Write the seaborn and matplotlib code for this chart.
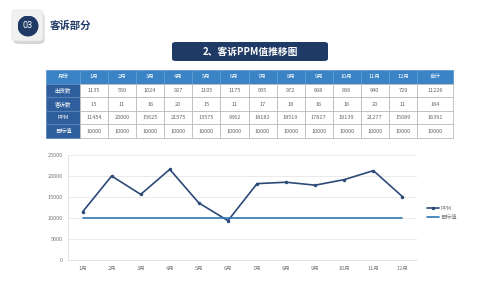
import matplotlib
matplotlib.use("Agg")
import matplotlib.pyplot as plt
import seaborn as sns
import pandas as pd
from matplotlib.patches import FancyBboxPatch, Ellipse

months = ["1月", "2月", "3月", "4月", "5月", "6月", "7月", "8月", "9月", "10月", "11月", "12月"]
shipments = [1135, 550, 1024, 927, 1105, 1175, 935, 972, 898, 836, 940, 729]
complaints = [13, 11, 16, 20, 15, 11, 17, 18, 16, 16, 20, 11]
ppm = [11454, 20000, 15625, 21575, 13575, 9362, 18182, 18519, 17817, 19139, 21277, 15089]
target = [10000] * 12
total_ship = 11226
total_compl = 184
total_ppm = 16391
total_target = 10000
row_labels = ["出货数", "客诉数", "PPM", "目标值"]

sns.set_theme(style="white")
plt.rcParams['font.family'] = ['Noto Sans CJK SC', 'DejaVu Sans']

W, H = 500, 281
fig = plt.figure(figsize=(5, 2.81), dpi=100)
fig.patch.set_facecolor("white")

def fx(px): return px / W
def fy(py): return 1 - py / H

NAVY = "#1f3a64"

# header icon
fig.patches.append(FancyBboxPatch((fx(13.5), fy(44)), fx(31), 31 / H,
                                  boxstyle="round,pad=0,rounding_size=0.012",
                                  transform=fig.transFigure, facecolor="#d6d6d6",
                                  edgecolor="none", zorder=1))
fig.patches.append(FancyBboxPatch((fx(12), fy(41)), fx(31), 31 / H,
                                  boxstyle="round,pad=0,rounding_size=0.012",
                                  transform=fig.transFigure, facecolor="#f1f1f1",
                                  edgecolor="#e2e2e2", lw=0.5, zorder=2))
icon_ax = fig.add_axes([fx(17.5), fy(36.5), fx(21), 21 / H])
icon_ax.set_zorder(5)
icon_ax.patch.set_alpha(0)
icon_ax.set_xlim(0, 1); icon_ax.set_ylim(0, 1); icon_ax.axis("off")
icon_ax.add_patch(Ellipse((0.5, 0.5), 1.0, 1.0, facecolor=NAVY, edgecolor="none"))
icon_ax.text(0.5, 0.5, "03", color="white", fontsize=6.5, ha="center", va="center",
             family=["Roboto", "DejaVu Sans"])
fig.text(fx(50), fy(26), "客诉部分", color=NAVY, fontsize=7.5, fontweight="bold",
         va="center", ha="left")

# banner
fig.patches.append(FancyBboxPatch((fx(172), fy(61)), fx(156), 19 / H,
                                  boxstyle="round,pad=0,rounding_size=0.008",
                                  transform=fig.transFigure, facecolor=NAVY,
                                  edgecolor="none", zorder=2))
fig.text(fx(250), fy(51.5), "2、客诉PPM值推移图", color="white", fontsize=7,
         fontweight="bold", ha="center", va="center", zorder=3)

# table
tab_left, tab_right, tab_top, tab_bot = 46, 453, 70, 138
tax = fig.add_axes([fx(tab_left), fy(tab_bot), fx(tab_right - tab_left), (tab_bot - tab_top) / H])
tax.axis("off")
header = ["月份"] + months + ["合计"]
rows = [
    [row_labels[0]] + [str(v) for v in shipments] + [str(total_ship)],
    [row_labels[1]] + [str(v) for v in complaints] + [str(total_compl)],
    [row_labels[2]] + [str(v) for v in ppm] + [str(total_ppm)],
    [row_labels[3]] + [str(v) for v in target] + [str(total_target)],
]
cw = [34] + [(417 - 80) / 12] * 12 + [36]
tot = sum(cw)
cw = [c / tot for c in cw]
tbl = tax.table(cellText=[header] + rows, colWidths=cw, bbox=[0, 0, 1, 1], cellLoc="center")
tbl.auto_set_font_size(False)
for (r, c), cell in tbl.get_celld().items():
    cell.set_linewidth(0.6)
    cell.set_edgecolor("#bdbdbd")
    t = cell.get_text()
    t.set_fontsize(4)
    if r == 0:
        cell.set_facecolor("#3a84c6")
        cell.set_edgecolor("#5d9bd2")
        t.set_color("white")
    elif c == 0:
        cell.set_facecolor("#2e5e9c")
        cell.set_edgecolor("#5d86b8")
        t.set_color("white")
    else:
        cell.set_facecolor("white")
        t.set_color("#666666")

# chart
ax = fig.add_axes([fx(68), fy(260), fx(417 - 68), (260 - 155) / H])
df = pd.DataFrame({"月": months, "PPM": ppm, "目标值": target, "x": range(12)})
sns.lineplot(data=df, x="x", y="PPM", ax=ax, color="#2c4a78", lw=1.2, marker="o",
             markersize=2.5, markeredgewidth=0, label="PPM")
sns.lineplot(data=df, x="x", y="目标值", ax=ax, color="#2f78b4", lw=1.2, label="目标值")
ax.set_xlim(-0.5, 11.5)
ax.set_ylim(0, 25000)
ax.set_yticks([0, 5000, 10000, 15000, 20000, 25000])
ax.set_xticks(range(12))
ax.set_xticklabels(months)
ax.tick_params(axis="both", labelsize=4, colors="#777777", length=0, pad=4)
ax.set_xlabel(""); ax.set_ylabel("")
ax.grid(axis="y", color="#e6e6e6", lw=0.6)
ax.set_axisbelow(True)
for s in ["top", "right"]:
    ax.spines[s].set_visible(False)
ax.spines["left"].set_color("#e0e0e0")
ax.spines["bottom"].set_color("#e0e0e0")
ax.spines["left"].set_linewidth(0.6)
ax.spines["bottom"].set_linewidth(0.6)
leg = ax.legend(loc="center left", bbox_to_anchor=(1.015, 0.45), frameon=False,
                fontsize=4, handlelength=2.2, handletextpad=0.2, labelspacing=0.8,
                labelcolor="#777777")

fig.savefig("out.png", dpi=100, facecolor="white")
